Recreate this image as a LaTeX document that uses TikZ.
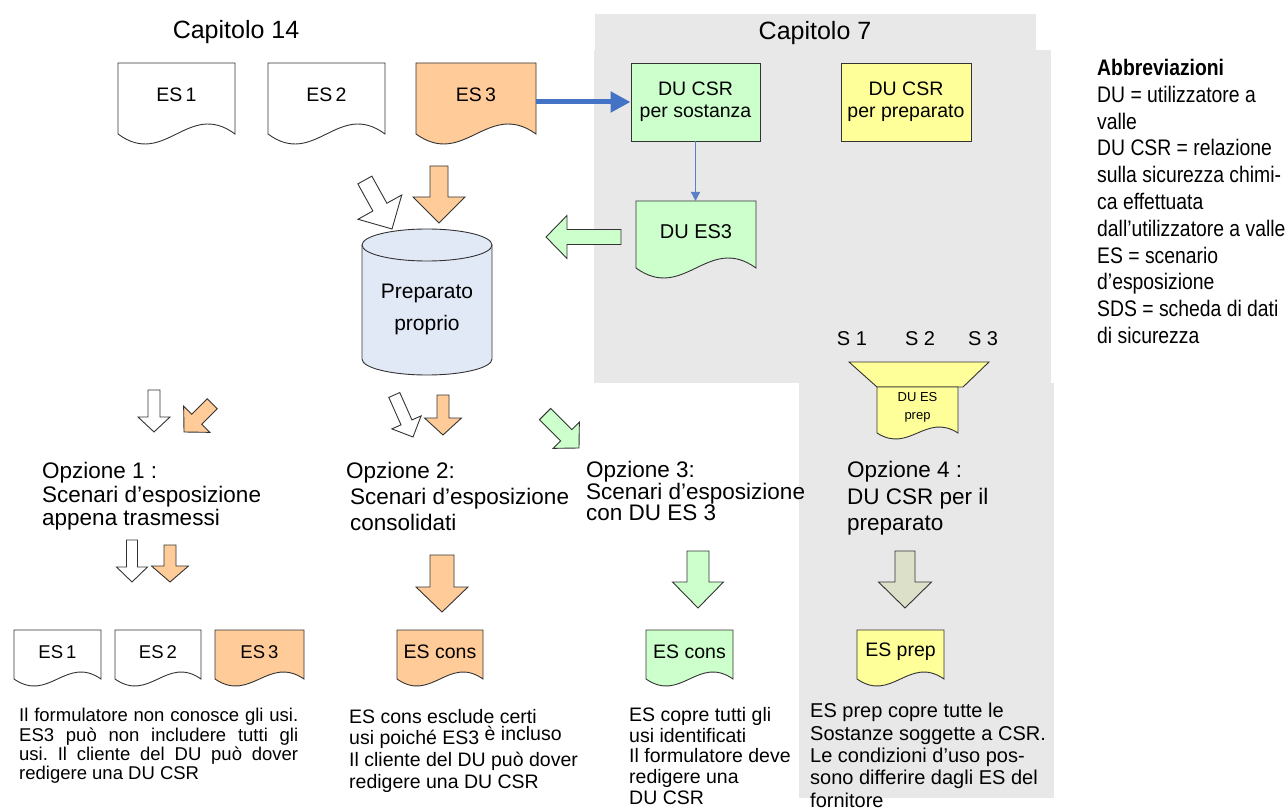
\documentclass[tikz,border=0pt]{standalone}
\usepackage{fontspec}
\setmainfont{Liberation Sans}
\newfontfamily\narrowfont[FakeStretch=0.86]{Liberation Sans}
\usetikzlibrary{arrows.meta}
\frenchspacing

\definecolor{esorange}{HTML}{FFCC99}
\definecolor{esgreen}{HTML}{CCFFCC}
\definecolor{esyellow}{HTML}{FFFF99}
\definecolor{panelgrey}{HTML}{E8E8E8}
\definecolor{cylfill}{HTML}{E2E9F6}
\definecolor{olivegrey}{HTML}{DDE0C8}
\definecolor{linkblue}{HTML}{4472C4}
\definecolor{thinblue}{HTML}{5B80C8}
\definecolor{outline}{HTML}{333333}

\newcommand{\fsz}[2]{\fontsize{#1pt}{#2pt}\selectfont}

\tikzset{
  outlined/.style={draw=outline, line width=0.9pt, line join=miter},
  txt/.style={inner sep=0pt, anchor=north west, align=left},
  ctxt/.style={inner sep=0pt, align=center},
}

% document symbol with a wavy lower edge
% #1 name, #2 fill, #3 x, #4 y, #5 width, #6 side height, #7 wave amplitude, #8 font, #9 label
\newcommand{\docsym}[9]{%
  \begin{scope}[shift={(#3,#4)}]
    \draw[outlined, fill=#2] (0,0) -- (#5,0) -- (#5,#6)
      .. controls ({0.6*#5},{#6-3.46*#7}) and ({0.4*#5},{#6+3.46*#7}) .. (0,#6) -- cycle;
    \node[ctxt, font=#8] (#1) at ({#5/2},{0.45*#6}) {#9};
  \end{scope}}

% block arrow given by its tip
% #1 fill, #2 tip x, #3 tip y, #4 direction, #5 length, #6 shaft width, #7 head width, #8 head length
\newcommand{\blockarrow}[8]{%
  \begin{scope}[shift={(#2,#3)}, rotate=#4]
    \draw[outlined, fill=#1] (0,0) -- (-#8,#7/2) -- (-#8,#6/2) -- (-#5,#6/2)
      -- (-#5,-#6/2) -- (-#8,-#6/2) -- (-#8,-#7/2) -- cycle;
  \end{scope}}

\begin{document}
\begin{tikzpicture}[x=1pt, y=-1pt]
\useasboundingbox (0,0) rectangle (1288,810);

% grey panels of chapter 7 and option 4
\fill[panelgrey] (595,14) rectangle (1036,50);
\fill[panelgrey] (594,50) rectangle (1051,383);
\fill[panelgrey] (799,383) rectangle (1054,798);

% headings
\node[inner sep=0, anchor=base, font=\fsz{25}{30}] (cap14) at (236,39) {Capitolo 14};
\node[inner sep=0, anchor=base, font=\fsz{25}{30}] (cap7) at (815,40) {Capitolo 7};

% supplier exposure scenarios
\docsym{es1}{white}{118}{63}{117}{71}{10}{\fsz{19.5}{22}}{ES\,1}
\docsym{es2}{white}{268}{63}{117}{71}{10}{\fsz{19.5}{22}}{ES\,2}
\docsym{es3}{esorange}{416}{63}{120}{71}{10}{\fsz{19.5}{22}}{ES\,3}

% chapter 7 boxes
\node[outlined, fill=esgreen, minimum width=129pt, minimum height=78pt, inner sep=0,
      align=center, font=\fsz{19.5}{22}] (ducsrs) at (695.5,102) {DU CSR\\per sostanza};
\node[outlined, fill=esyellow, minimum width=130pt, minimum height=78pt, inner sep=0,
      align=center, font=\fsz{19.5}{22}] (ducsrp) at (906,102) {DU CSR\\per preparato};

\coordinate (es3-out) at (536,102);
\draw[linkblue, line width=5pt, -{Triangle[length=20pt,width=20pt]}] (es3-out) -- (ducsrs.west);

\docsym{dues3}{esgreen}{636}{201}{120}{67}{10}{\fsz{20}{22}}{DU ES3}
\coordinate (dues3-top) at (695.5,201);
\draw[thinblue, line width=1.4pt, -{Triangle[length=9pt,width=9pt]}] (ducsrs.south) -- (dues3-top);

% own preparation
\draw[outlined, fill=cylfill] (362,245) -- (362,359)
  arc[start angle=180, end angle=0, x radius=65, y radius=16] -- (492,245)
  arc[start angle=0, end angle=-180, x radius=65, y radius=16] -- cycle;
\draw[outlined] (362,245) arc[start angle=180, end angle=0, x radius=65, y radius=16];
\node[ctxt, font=\fsz{21}{32}] (prep) at (427,309) {Preparato\\proprio};

\blockarrow{esorange}{439}{223}{-90}{57}{18}{52}{26}
\blockarrow{white}{392}{229}{-61}{56}{16}{50}{25}
\blockarrow{esgreen}{546}{237}{180}{75}{15}{43}{21}

% option arrows
\blockarrow{white}{154}{432}{-90}{42}{12}{32}{15}
\blockarrow{esorange}{184}{432}{-135}{40}{14}{37}{18}
\blockarrow{white}{413}{437}{-66}{46}{12}{32}{16}
\blockarrow{esorange}{443}{435}{-90}{40}{12}{37}{17}
\blockarrow{esgreen}{579}{448}{-45}{48}{16}{37}{18}

% preparation CSR funnel
\node[ctxt, font=\fsz{20}{24}] (s1) at (852,339) {S 1};
\node[ctxt, font=\fsz{20}{24}] (s2) at (920,339) {S 2};
\node[ctxt, font=\fsz{20}{24}] (s3) at (983,339) {S 3};
\draw[outlined, fill=esyellow] (849,362) -- (989,362) -- (963,387) -- (877,387) -- cycle;
\docsym{duesprep}{esyellow}{877}{387}{81}{46}{6}{\fsz{13}{18}}{DU ES\\prep}

% option texts
\node[txt, font=\fsz{22.5}{23.5}] (opt1) at (42,462) {Opzione 1 :\\Scenari d’esposizione\\appena trasmessi};
\node[txt, font=\fsz{22.5}{26}] (opt2) at (346,462) {Opzione 2:\\\hspace*{4pt}Scenari d’esposizione\\\hspace*{4pt}consolidati};
\node[txt, font=\fsz{22.5}{21.5}] (opt3) at (586,461) {Opzione 3:\\Scenari d’esposizione\\con DU ES 3};
\node[txt, font=\fsz{22.5}{26.5}] (opt4) at (847,461) {Opzione 4 :\\DU CSR per il\\preparato};

% second row of arrows
\blockarrow{white}{132}{582}{-90}{42}{11}{31}{15}
\blockarrow{esorange}{170}{582}{-90}{37}{12}{37}{16}
\blockarrow{esorange}{442}{612}{-90}{57}{24}{52}{25}
\blockarrow{esgreen}{698}{608}{-90}{57}{22}{51}{26}
\blockarrow{olivegrey}{905}{608}{-90}{57}{20}{53}{26}

% resulting scenarios
\docsym{res1}{white}{14}{630}{87}{49}{7}{\fsz{18.5}{22}}{ES\,1}
\docsym{res2}{white}{115}{630}{86}{49}{7}{\fsz{18.5}{22}}{ES\,2}
\docsym{res3}{esorange}{215}{630}{89}{49}{7}{\fsz{18.5}{22}}{ES\,3}
\docsym{cons2}{esorange}{397}{630}{86}{49}{7}{\fsz{19.5}{22}}{ES cons}
\docsym{cons3}{esgreen}{646}{630}{87}{49}{7}{\fsz{19.5}{22}}{ES cons}
\docsym{prep4}{esyellow}{857}{630}{87}{49}{7}{\fsz{19.5}{22}}{ES prep}

% notes
\node[txt, font=\fsz{18.5}{19.4}] (note1) at (19,708)
  {\makebox[279pt][s]{Il formulatore non conosce gli usi.}\\
   \makebox[279pt][s]{ES3 può non includere tutti gli}\\
   \makebox[279pt][s]{usi. Il cliente del DU può dover}\\
   redigere una DU CSR};
\node[txt, font=\fsz{19.5}{21.6}] (note2) at (349,709)
  {ES cons esclude certi\\usi poiché ES3 \raisebox{4pt}{è incluso}\\Il cliente del DU può dover\\redigere una DU CSR};
\node[txt, font=\fsz{19.5}{20.8}] (note3) at (629,707)
  {ES copre tutti gli\\usi identificati\\Il formulatore deve\\redigere una\\DU CSR};
\node[txt, font=\fsz{20}{22.4}] (note4) at (810,703)
  {ES prep copre tutte le\\Sostanze soggette a CSR.\\Le condizioni d’uso pos-\\sono differire dagli ES del\\fornitore};

% abbreviations
\node[txt, font=\narrowfont\fsz{22.5}{26.8}] (abbr) at (1097,59)
  {\textbf{Abbreviazioni}\\DU = utilizzatore a\\valle\\DU CSR = relazione\\sulla sicurezza chimi-\\ca effettuata\\dall’utilizzatore a valle\\ES = scenario\\d’esposizione\\SDS = scheda di dati\\di sicurezza};
\end{tikzpicture}
\end{document}
